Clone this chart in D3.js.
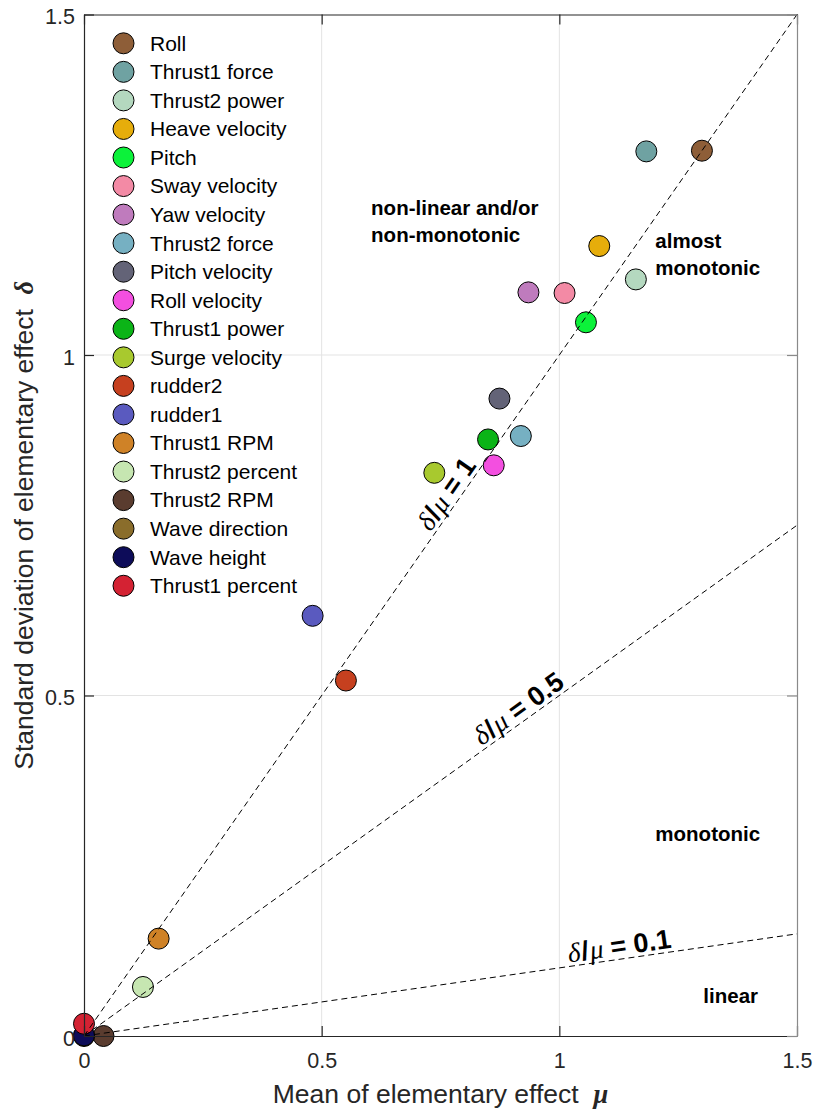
<!DOCTYPE html>
<html>
<head>
<meta charset="utf-8">
<script src="https://cdn.jsdelivr.net/npm/d3@7"></script>
<style>
  html, body { margin: 0; padding: 0; background: #fff; }
  svg { display: block; font-family: "Liberation Sans", Arial, Helvetica, sans-serif; }
</style>
</head>
<body>
<svg id="chart" width="816" height="1113"></svg>
<script>
// Morris screening: mean vs standard deviation of elementary effects
const names = [
  "Roll", "Thrust1 force", "Thrust2 power", "Heave velocity", "Pitch",
  "Sway velocity", "Yaw velocity", "Thrust2 force", "Pitch velocity", "Roll velocity",
  "Thrust1 power", "Surge velocity", "rudder2", "rudder1", "Thrust1 RPM",
  "Thrust2 percent", "Thrust2 RPM", "Wave direction", "Wave height", "Thrust1 percent"
];
const muValues = [
  1.300, 1.183, 1.161, 1.084, 1.056,
  1.011, 0.935, 0.919, 0.874, 0.862,
  0.850, 0.737, 0.551, 0.481, 0.157,
  0.124, 0.041, 0.000, 0.000, 0.000
];
const sigmaValues = [
  1.300, 1.299, 1.111, 1.160, 1.048,
  1.091, 1.092, 0.881, 0.936, 0.838,
  0.876, 0.827, 0.522, 0.617, 0.143,
  0.072, 0.000, 0.000, 0.001, 0.018
];
const markerColors = [
  "#8e5e38", "#6fa2a2", "#b4d8bf", "#e6ad0b", "#0cf23a",
  "#f38aa5", "#bf7bbd", "#76b0c2", "#636377", "#f34fe0",
  "#0bb417", "#a8c92e", "#c6401f", "#5a5abf", "#cf8227",
  "#c6e6b1", "#5a3c2f", "#8a6d2b", "#0d0c59", "#d42233"
];
// reference lines delta/mu = ratio
const ratios = [1, 0.5, 0.1];
const ratioLabelMu = [0.785, 0.93, 1.13];
const tickValues = [0, 0.5, 1, 1.5];
const tickLabels = ["0", "0.5", "1", "1.5"];
// region annotations
const regionNotes = [
  { lines: ["non-linear and/or", "non-monotonic"], mu: 0.604, sigma: 1.206 },
  { lines: ["almost", "monotonic"], mu: 1.202, sigma: 1.157 },
  { lines: ["monotonic"], mu: 1.202, sigma: 0.287 },
  { lines: ["linear"], mu: 1.303, sigma: 0.049 }
];

const svg = d3.select("#chart");
const W = 816, H = 1113;
const plotL = 84, plotR = 797, plotT = 14.5, plotB = 1036;
const textColor = "#262626";
const serif = "Liberation Serif, Times New Roman, serif";

svg.append("rect").attr("width", W).attr("height", H).attr("fill", "#fff");

const x = d3.scaleLinear().domain([0, 1.5]).range([plotL, plotR]);
const y = d3.scaleLinear().domain([0, 1.5]).range([plotB, plotT]);

// grid
const grid = svg.append("g").attr("stroke", "#e3e3e3").attr("stroke-width", 1);
tickValues.slice(1, 3).forEach(v => {
  grid.append("line").attr("x1", x(v)).attr("x2", x(v)).attr("y1", y(0)).attr("y2", y(1.5));
  grid.append("line").attr("x1", x(0)).attr("x2", x(1.5)).attr("y1", y(v)).attr("y2", y(v));
});

// markers
const pts = names.map((n, i) => ({ name: n, mu: muValues[i], sigma: sigmaValues[i], color: markerColors[i] }));
svg.append("g").selectAll("circle").data(pts).join("circle")
  .attr("cx", d => x(d.mu)).attr("cy", d => y(d.sigma)).attr("r", 10.5)
  .attr("fill", d => d.color).attr("stroke", "#000").attr("stroke-width", 1);

// reference lines
const lineG = svg.append("g");
ratios.forEach(r => {
  lineG.append("line")
    .attr("x1", x(0)).attr("y1", y(0)).attr("x2", x(1.5)).attr("y2", y(1.5 * r))
    .attr("stroke", "#000").attr("stroke-width", 1).attr("stroke-dasharray", "6,4");
});

// axes frame and ticks
const fmt = (d) => tickLabels[tickValues.indexOf(d)];
const xAxis = svg.append("g").attr("transform", `translate(0,${plotB})`)
  .call(d3.axisBottom(x).tickValues(tickValues).tickFormat(fmt).tickSizeInner(-10).tickSizeOuter(0).tickPadding(17));
const yAxis = svg.append("g").attr("transform", `translate(${plotL},0)`)
  .call(d3.axisLeft(y).tickValues(tickValues).tickFormat(fmt).tickSizeInner(-10).tickSizeOuter(0).tickPadding(9));
const xTop = svg.append("g").attr("transform", `translate(0,${plotT})`)
  .call(d3.axisTop(x).tickValues(tickValues).tickFormat("").tickSizeInner(-10).tickSizeOuter(0));
const yRight = svg.append("g").attr("transform", `translate(${plotR},0)`)
  .call(d3.axisRight(y).tickValues(tickValues).tickFormat("").tickSizeInner(-10).tickSizeOuter(0));
[xAxis, yAxis, xTop].forEach(g => {
  g.selectAll("path,line").attr("stroke", textColor).attr("stroke-width", 1.2);
  g.selectAll("text").attr("fill", textColor).attr("font-size", 21.5).attr("font-family", "Liberation Sans, Arial, sans-serif");
});
yAxis.selectAll("text").attr("dy", "0.42em");
yRight.selectAll("path,line").attr("stroke", "#8a8a8a").attr("stroke-width", 1.2);

// axis titles
const xt = svg.append("text").attr("x", (plotL + plotR) / 2).attr("y", 1103)
  .attr("text-anchor", "middle").attr("font-size", 26.5).attr("fill", textColor);
xt.append("tspan").text("Mean of elementary effect\u00a0\u00a0");
xt.append("tspan").text("\u03bc").attr("font-family", serif)
  .attr("font-style", "italic").attr("font-weight", "bold");

const yt = svg.append("text").attr("transform", `translate(33,${(plotT + plotB) / 2}) rotate(-90)`)
  .attr("text-anchor", "middle").attr("font-size", 26.5).attr("fill", textColor);
yt.append("tspan").text("Standard deviation of elementary effect\u00a0\u00a0");
yt.append("tspan").text("\u03b4").attr("font-family", serif)
  .attr("font-style", "italic").attr("font-weight", "bold");

// ratio labels along the lines
ratios.forEach((r, i) => {
  const m = ratioLabelMu[i];
  const px = x(m), py = y(m * r);
  const ang = -Math.atan((y(0) - y(r)) / (x(1) - x(0))) * 180 / Math.PI;
  const t = svg.append("text").attr("transform", `translate(${px},${py}) rotate(${ang})`)
    .attr("text-anchor", "middle").attr("dy", -4).attr("font-size", 27).attr("font-weight", "bold").attr("fill", "#000");
  t.append("tspan").text("\u03b4").attr("font-family", serif).attr("font-style", "italic").attr("font-weight", "normal");
  t.append("tspan").text("/").attr("dx", 1);
  t.append("tspan").text("\u03bc").attr("font-family", serif).attr("font-style", "italic").attr("font-weight", "normal").attr("dx", 1);
  t.append("tspan").text("\u00a0=\u00a0" + r);
});

// region annotations
regionNotes.forEach(n => {
  const t = svg.append("text").attr("x", x(n.mu)).attr("y", y(n.sigma))
    .attr("font-size", 20.5).attr("font-weight", "bold").attr("fill", "#000");
  n.lines.forEach((ln, j) => {
    t.append("tspan").attr("x", x(n.mu)).attr("dy", j === 0 ? 0 : 27).text(ln);
  });
});

// legend
const legend = svg.append("g");
const rows = legend.selectAll("g").data(pts).join("g")
  .attr("transform", (d, i) => `translate(123.5,${43.3 + i * 28.55})`);
rows.append("circle").attr("r", 10.5).attr("fill", d => d.color).attr("stroke", "#000").attr("stroke-width", 1);
rows.append("text").attr("x", 26.5).attr("dy", "0.35em").attr("font-size", 21).attr("fill", "#000").text(d => d.name);
</script>
</body>
</html>
